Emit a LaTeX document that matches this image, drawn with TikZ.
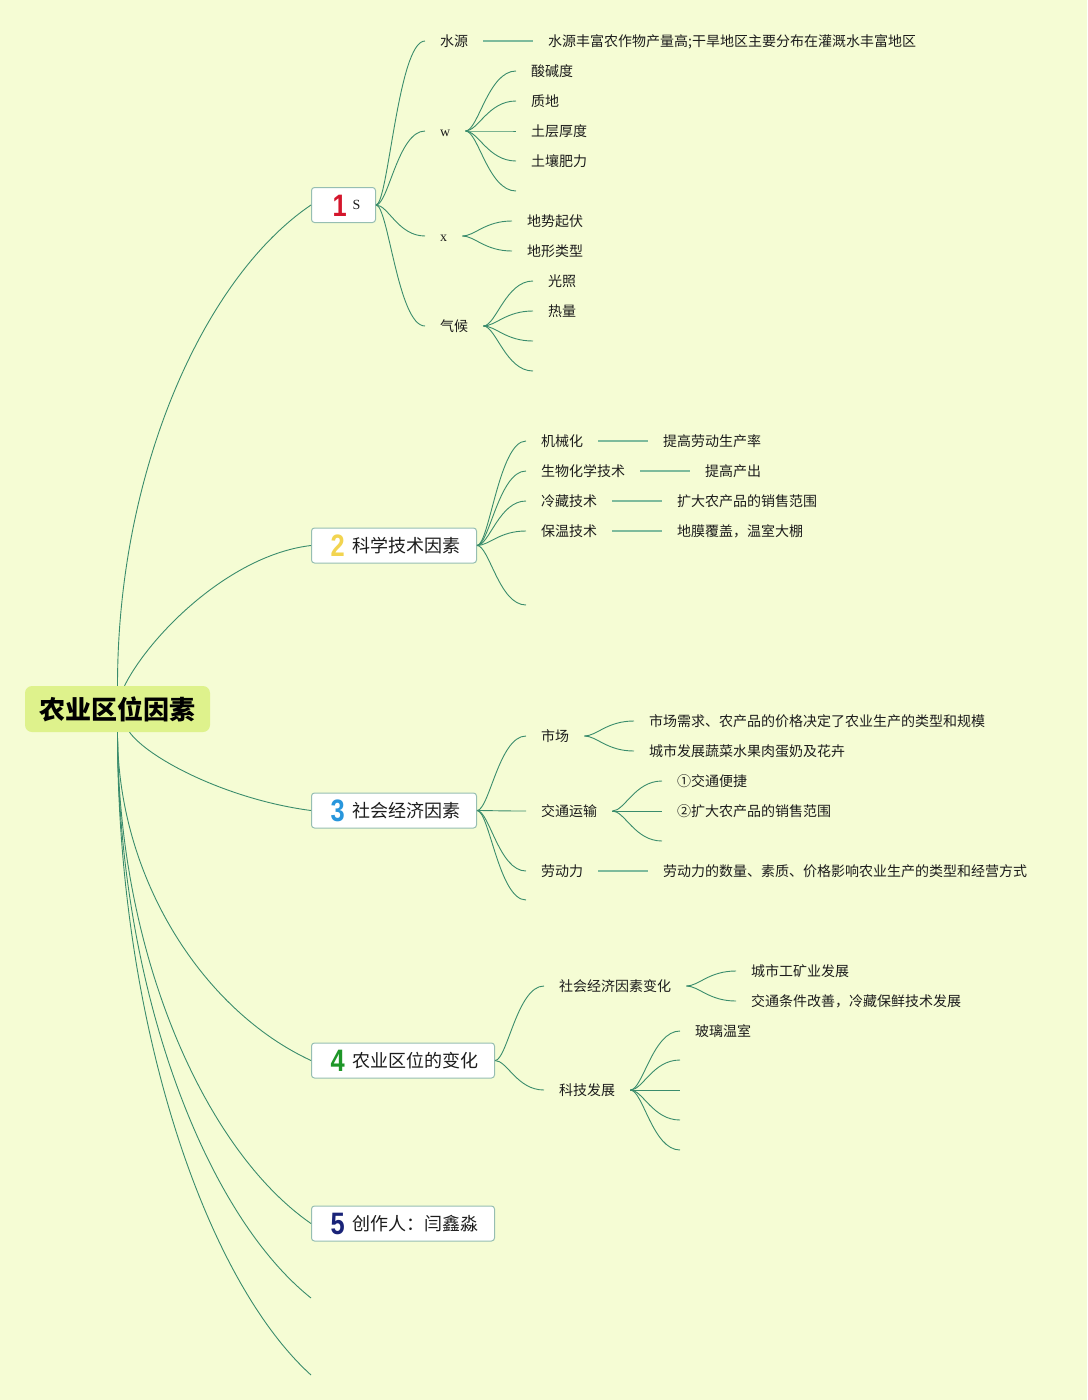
\documentclass[tikz,border=0pt]{standalone}
\usepackage{graphicx}
\usepackage{fontspec}
\setmainfont{Noto Sans CJK SC}
\newfontfamily\numf{Liberation Sans}
\newfontfamily\serf{Liberation Serif}
\usetikzlibrary{calc}
\definecolor{bg}{RGB}{245,252,212}
\definecolor{edgec}{RGB}{58,140,108}
\definecolor{linkc}{RGB}{125,187,156}
\definecolor{rootc}{RGB}{222,242,140}
\definecolor{boxc}{RGB}{150,190,178}
\definecolor{txtc}{RGB}{28,28,28}
\definecolor{nred}{RGB}{212,22,44}
\definecolor{nyel}{RGB}{242,212,80}
\definecolor{nblu}{RGB}{40,150,220}
\definecolor{ngrn}{RGB}{30,150,40}
\definecolor{nnav}{RGB}{25,35,120}
\newcommand\bignum[2]{\scalebox{0.82}[1]{\numf\bfseries\fontsize{31}{31}\selectfont\color{#1}#2}}
\newcommand\btxt[1]{\raisebox{4.3pt}{\fontsize{18}{20}\selectfont #1}}
\newcommand\scurve[2]{\draw[edge] let \p1=(#1), \p2=(#2) in (\p1) .. controls ({\x1+0.25*(\x2-\x1)},\y1) and ({\x1+0.45*(\x2-\x1)},\y2) .. (\p2);}
\newcommand\redge[2]{\draw[edge] let \p1=(#1), \p2=(#2) in (\p1) .. controls (\x1,{\y1+0.45*(\y2-\y1)}) and ({\x1+0.45*(\x2-\x1)},{\y1+0.85*(\y2-\y1)}) .. (\p2);}
\begin{document}
\begin{tikzpicture}[x=1pt,y=-1pt,
  edge/.style={draw=edgec, line width=0.9pt},
  link/.style={draw=linkc, line width=1.8pt},
  txt/.style={anchor=west, inner xsep=15pt, inner ysep=1pt, text height=11.3pt, text depth=0.7pt, font=\fontsize{14}{16}\selectfont, text=txtc},
  branch/.style={draw=boxc, line width=1pt, fill=white, rounded corners=3pt, minimum height=35pt, inner sep=0pt, text height=22.2pt, text depth=0pt, anchor=west, text=txtc},
  rootbox/.style={fill=rootc, rounded corners=7pt, minimum width=185pt, minimum height=46pt, inner sep=0pt, text height=20pt, text depth=0pt, font=\fontsize{26}{28}\selectfont\bfseries, text=black}
]
\fill[bg] (0,0) rectangle (1087,1400);
\useasboundingbox (0,0) rectangle (1087,1400);

% root
\node[rootbox] (root) at (117.5,709) {农业区位因素};

% level 1 boxes
\node[branch] (b1) at (311,205) {\makebox[64pt][l]{\hspace{21pt}\bignum{nred}{1}\hspace{6pt}\raisebox{6.5pt}{\serf\fontsize{14}{16}\selectfont S}}};
\node[branch] (b2) at (311,545.5) {\makebox[165pt][l]{\hspace{19pt}\bignum{nyel}{2}\hspace{8pt}\btxt{科学技术因素}}};
\node[branch] (b3) at (311,810.5) {\makebox[165pt][l]{\hspace{19pt}\bignum{nblu}{3}\hspace{8pt}\btxt{社会经济因素}}};
\node[branch] (b4) at (311,1060.5) {\makebox[183pt][l]{\hspace{19pt}\bignum{ngrn}{4}\hspace{8pt}\btxt{农业区位的变化}}};
\node[branch] (b5) at (311,1223.5) {\makebox[183pt][l]{\hspace{19pt}\bignum{nnav}{5}\hspace{8pt}\btxt{创作人：闫鑫淼}}};
\coordinate (f1) at (311,1298);
\coordinate (f2) at (311,1375);

% root edges
\redge{root.north}{b1.west}
\draw[edge] ($(root.north)+(7,0)$) .. controls (150,635) and (230,555) .. (b2.west);
\draw[edge] ($(root.south)+(12,0)$) .. controls (150,760) and (230,800) .. (b3.west);
\redge{root.south}{b4.west}
\redge{root.south}{b5.west}
\redge{root.south}{f1}
\redge{root.south}{f2}

% ---------- branch 1
\node[txt] (sy) at (425,41) {水源};
\node[txt] (w) at (425,131) {\serf w};
\node[txt] (x) at (425,236) {\serf x};
\node[txt] (qh) at (425,326) {气候};
\foreach \c in {sy,w,x,qh} {\scurve{b1.east}{\c.west}}

\node[txt] (syd) at (533,41) {水源丰富农作物产量高;干旱地区主要分布在灌溉水丰富地区};
\draw[link] (sy.east) -- (syd.west);

\node[txt] (w1) at (516,71) {酸碱度};
\node[txt] (w2) at (516,101) {质地};
\node[txt] (w3) at (516,131) {土层厚度};
\node[txt] (w4) at (516,161) {土壤肥力};
\coordinate (w5) at (516,191);
\foreach \c in {w1,w2,w3,w4} {\scurve{w.east}{\c.west}}
\scurve{w.east}{w5}

\node[txt] (x1) at (512,221) {地势起伏};
\node[txt] (x2) at (512,251) {地形类型};
\foreach \c in {x1,x2} {\scurve{x.east}{\c.west}}

\node[txt] (q1) at (533,281) {光照};
\node[txt] (q2) at (533,311) {热量};
\coordinate (q3) at (533,341);
\coordinate (q4) at (533,371);
\foreach \c in {q1,q2} {\scurve{qh.east}{\c.west}}
\foreach \c in {q3,q4} {\scurve{qh.east}{\c}}

% ---------- branch 2
\node[txt] (t1) at (526,441) {机械化};
\node[txt] (t2) at (526,471) {生物化学技术};
\node[txt] (t3) at (526,501) {冷藏技术};
\node[txt] (t4) at (526,531) {保温技术};
\coordinate (t5) at (526,605);
\foreach \c in {t1,t2,t3,t4} {\scurve{b2.east}{\c.west}}
\scurve{b2.east}{t5}
\node[txt] (t1d) at (648,441) {提高劳动生产率};
\node[txt] (t2d) at (690,471) {提高产出};
\node[txt] (t3d) at (662,501) {扩大农产品的销售范围};
\node[txt] (t4d) at (662,531) {地膜覆盖，温室大棚};
\foreach \c in {t1,t2,t3,t4} {\draw[link] (\c.east) -- (\c d.west);}

% ---------- branch 3
\node[txt] (s1) at (526,736) {市场};
\node[txt] (s2) at (526,811) {交通运输};
\node[txt] (s3) at (526,871) {劳动力};
\coordinate (s4) at (526,900);
\foreach \c in {s1,s2,s3} {\scurve{b3.east}{\c.west}}
\scurve{b3.east}{s4}

\node[txt] (m1) at (634,721) {市场需求、农产品的价格决定了农业生产的类型和规模};
\node[txt] (m2) at (634,751) {城市发展蔬菜水果肉蛋奶及花卉};
\foreach \c in {m1,m2} {\scurve{s1.east}{\c.west}}

\node[txt] (j1) at (662,781) {①交通便捷};
\node[txt] (j2) at (662,811) {②扩大农产品的销售范围};
\coordinate (j3) at (662,841);
\foreach \c in {j1,j2} {\scurve{s2.east}{\c.west}}
\scurve{s2.east}{j3}

\node[txt] (s3d) at (648,871) {劳动力的数量、素质、价格影响农业生产的类型和经营方式};
\draw[link] (s3.east) -- (s3d.west);

% ---------- branch 4
\node[txt] (c1) at (544,986) {社会经济因素变化};
\node[txt] (c2) at (544,1090) {科技发展};
\foreach \c in {c1,c2} {\scurve{b4.east}{\c.west}}

\node[txt] (h1) at (736,971) {城市工矿业发展};
\node[txt] (h2) at (736,1001) {交通条件改善，冷藏保鲜技术发展};
\foreach \c in {h1,h2} {\scurve{c1.east}{\c.west}}

\node[txt] (k1) at (680,1031) {玻璃温室};
\coordinate (k2) at (680,1060);
\coordinate (k3) at (680,1090);
\coordinate (k4) at (680,1120);
\coordinate (k5) at (680,1150);
\scurve{c2.east}{k1.west}
\foreach \c in {k2,k3,k4,k5} {\scurve{c2.east}{\c}}
\end{tikzpicture}
\end{document}
